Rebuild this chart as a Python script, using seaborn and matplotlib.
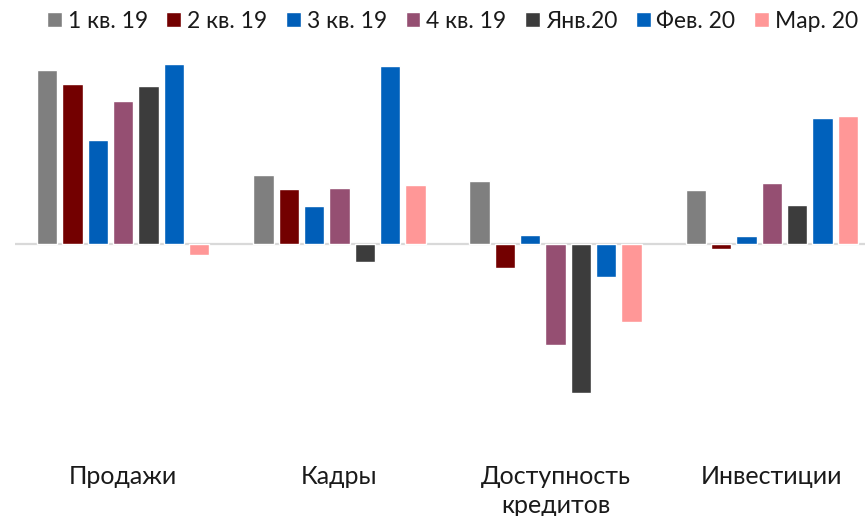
import numpy as np
import pandas as pd
import matplotlib
matplotlib.use("Agg")
import matplotlib.pyplot as plt
import seaborn as sns

# data (no axis in source, units ~ arbitrary)
categories = ["Продажи", "Кадры", "Доступность\nкредитов", "Инвестиции"]
series = ["1 кв. 19", "2 кв. 19", "3 кв. 19", "4 кв. 19", "Янв.20", "Фев. 20", "Мар. 20"]
q1_19 = [174, 69, 63, 54]
q2_19 = [160, 55, -24, -5]
q3_19 = [104, 38, 9, 8]
q4_19 = [143, 56, -101, 61]
jan_20 = [158, -18, -149, 39]
feb_20 = [180, 178, -33, 126]
mar_20 = [-11, 59, -78, 128]
colors = ["#7F7F7F", "#730000", "#005EB8", "#954F72", "#3C3C3C", "#0061BC", "#FF9797"]

values = [q1_19, q2_19, q3_19, q4_19, jan_20, feb_20, mar_20]
rows = []
for s, vals in zip(series, values):
    for c, v in zip(categories, vals):
        rows.append({"cat": c, "series": s, "value": v})
df = pd.DataFrame(rows)

sns.set_style("white")
plt.rcParams["font.family"] = ["Lato", "DejaVu Sans"]

fig = plt.figure(figsize=(8.65, 5.16), dpi=100)
ax = fig.add_axes([15 / 865, 1 - 455 / 516, 865 / 865, 400 / 516])

sns.barplot(data=df, x="cat", y="value", hue="series", hue_order=series,
            order=categories, palette=colors, width=0.82, gap=0.2,
            saturation=1, ax=ax, legend=True)

ax.axhline(0, color="#D9D9D9", lw=1.6, zorder=0.5)
ax.set_ylim(-211, 189)
ax.set_xlim(-0.5, 3.5)
ax.set_yticks([])
ax.set_xlabel("")
ax.set_ylabel("")
ax.tick_params(axis="x", length=0, pad=7, labelsize=18, colors="#1a1a1a")
for lbl in ax.get_xticklabels():
    lbl.set_linespacing(1.35)
for sp in ax.spines.values():
    sp.set_visible(False)

handles, labels = ax.get_legend_handles_labels()
ax.get_legend().remove()
fig.legend(handles, labels, loc="upper left", bbox_to_anchor=(0.033, 1.015),
           ncol=7, frameon=False, fontsize=16.5, handlelength=0.65, handleheight=0.65,
           handletextpad=0.25, columnspacing=0.82, labelcolor="#1a1a1a",
           borderpad=0.3)

fig.savefig("out.png", dpi=100)
